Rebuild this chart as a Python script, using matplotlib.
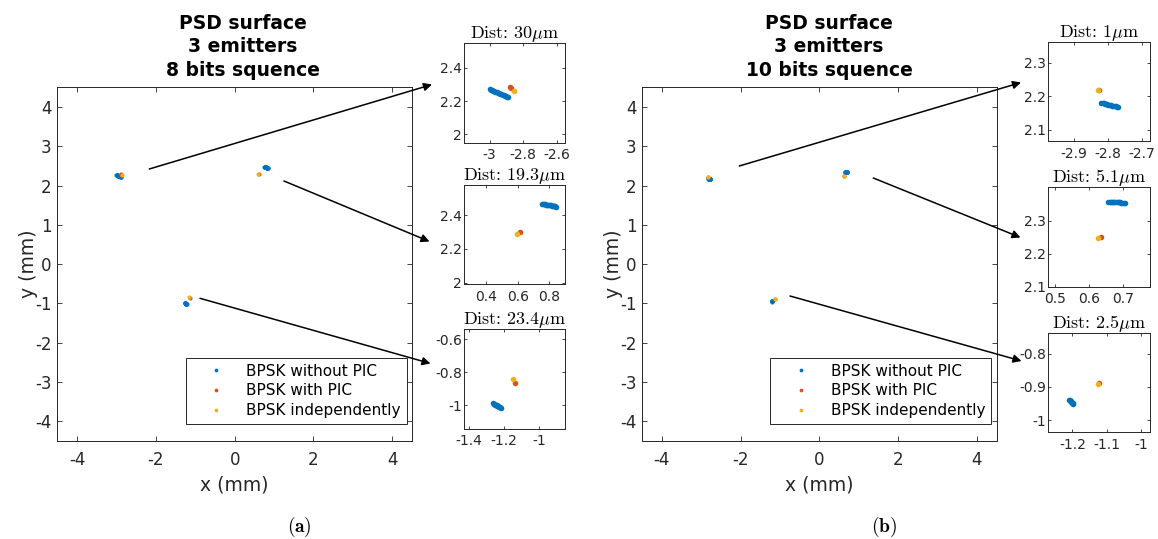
import matplotlib
matplotlib.use('Agg')
import matplotlib.pyplot as plt
from matplotlib.patches import FancyArrowPatch
from matplotlib.ticker import FuncFormatter

plt.rcParams['font.family'] = 'DejaVu Sans'
plt.rcParams['axes.unicode_minus'] = False
plt.rcParams['mathtext.fontset'] = 'cm'

# figure size in pixels
W, H = 1158, 539

BLUE = '#0072BD'
RED = '#D95319'
YELLOW = '#EDB120'
LABELS = ['BPSK without PIC', 'BPSK with PIC', 'BPSK independently']

# ---- data (mm), 3 emitters per series ----
# (a) 8 bits sequence
a_blue_x = [-3.000, -2.993, -2.986, -2.979, -2.972, -2.965, -2.958, -2.951,
            -2.944, -2.937, -2.930, -2.923, -2.916, -2.909, -2.902, -2.895, -2.888,
            0.755, 0.761, 0.767, 0.773, 0.779, 0.785, 0.791, 0.797,
            0.803, 0.809, 0.815, 0.821, 0.827, 0.833, 0.839, 0.845,
            -1.262, -1.259, -1.255, -1.251, -1.247, -1.243, -1.239, -1.235,
            -1.231, -1.227, -1.223, -1.219]
a_blue_y = [2.270, 2.267, 2.264, 2.261, 2.258, 2.255, 2.252, 2.249,
            2.246, 2.243, 2.240, 2.237, 2.234, 2.231, 2.228, 2.225, 2.222,
            2.467, 2.466, 2.466, 2.465, 2.464, 2.463, 2.462, 2.461,
            2.460, 2.459, 2.458, 2.457, 2.456, 2.455, 2.454, 2.452,
            -0.990, -0.992, -0.995, -0.997, -1.000, -1.002, -1.005, -1.007,
            -1.010, -1.012, -1.015, -1.017]
a_red_x = [-2.876, -2.872, 0.615, -1.135]
a_red_y = [2.284, 2.279, 2.300, -0.865]
a_yel_x = [-2.856, 0.596, -1.150]
a_yel_y = [2.258, 2.289, -0.844]

# (b) 10 bits sequence
b_blue_x = [-2.819, -2.815, -2.812, -2.808, -2.805, -2.801, -2.798, -2.794,
            -2.791, -2.787, -2.784, -2.780, -2.777, -2.774, -2.771,
            0.655, 0.659, 0.662, 0.666, 0.669, 0.673, 0.676, 0.680,
            0.683, 0.687, 0.690, 0.694, 0.697, 0.701, 0.704,
            -1.209, -1.207, -1.205, -1.203, -1.201, -1.199, -1.198]
b_blue_y = [2.180, 2.179, 2.179, 2.178, 2.177, 2.176, 2.175, 2.174,
            2.173, 2.172, 2.172, 2.171, 2.170, 2.169, 2.168,
            2.356, 2.356, 2.356, 2.356, 2.356, 2.355, 2.355, 2.355,
            2.355, 2.355, 2.355, 2.354, 2.354, 2.354, 2.354,
            -0.939, -0.941, -0.944, -0.946, -0.948, -0.950, -0.952]
b_red_x = [-2.826, 0.633, -1.123]
b_red_y = [2.217, 2.251, -0.889]
b_yel_x = [-2.827, 0.626, -1.126]
b_yel_y = [2.217, 2.248, -0.890]

# zoom windows: limits, ticks, titles
a_zoom_xlim = [(-3.152, -2.552), (0.26, 0.90), (-1.43, -0.85)]
a_zoom_ylim = [(1.95, 2.55), (1.99, 2.58), (-1.144, -0.539)]
a_zoom_xticks = [[-3, -2.8, -2.6], [0.4, 0.6, 0.8], [-1.4, -1.2, -1]]
a_zoom_yticks = [[2, 2.2, 2.4], [2, 2.2, 2.4], [-1, -0.8, -0.6]]
a_dist = ['30', '19.3', '23.4']

b_zoom_xlim = [(-2.974, -2.676), (0.479, 0.778), (-1.27, -0.975)]
b_zoom_ylim = [(2.067, 2.361), (2.10, 2.402), (-1.036, -0.737)]
b_zoom_xticks = [[-2.9, -2.8, -2.7], [0.5, 0.6, 0.7], [-1.2, -1.1, -1]]
b_zoom_yticks = [[2.1, 2.2, 2.3], [2.1, 2.2, 2.3], [-1, -0.9, -0.8]]
b_dist = ['1', '5.1', '2.5']


def px_box(l, t, r, b):
    # pixel box (top-left origin) -> figure fraction [left, bottom, w, h]
    return [l / W, 1 - b / H, (r - l) / W, (b - t) / H]


def style_axes(ax, size, length, pad):
    for s in ax.spines.values():
        s.set_color('#262626')
        s.set_linewidth(0.7)
    ax.tick_params(direction='in', top=True, right=True, length=length,
                   width=0.6, labelsize=size, colors='#262626', pad=pad)
    ax.xaxis.set_major_formatter(FuncFormatter(lambda v, p: '%g' % v))
    ax.yaxis.set_major_formatter(FuncFormatter(lambda v, p: '%g' % v))


def plot_series(ax, series, ms):
    for (x, y), c, lab in zip(series, [BLUE, RED, YELLOW], LABELS):
        ax.plot(x, y, 'o', ms=ms, mew=0, color=c, label=lab, linestyle='none')


def arrow(fig, p0, p1):
    a = FancyArrowPatch((p0[0] / W, 1 - p0[1] / H), (p1[0] / W, 1 - p1[1] / H),
                        transform=fig.transFigure, arrowstyle='-|>',
                        mutation_scale=12, lw=1.1, color='black',
                        shrinkA=0, shrinkB=0)
    fig.add_artist(a)


def panel(fig, main_box, title, title_x, series, zoom_boxes, xlims, ylims,
          xticks, yticks, dists, arrows, leg_xy, label, label_x):
    ax = fig.add_axes(px_box(*main_box))
    plot_series(ax, series, 3.0)
    ax.set_xlim(-4.5, 4.5)
    ax.set_ylim(-4.5, 4.5)
    ax.set_xticks([-4, -2, 0, 2, 4])
    ax.set_yticks([-4, -3, -2, -1, 0, 1, 2, 3, 4])
    style_axes(ax, 12, 3.5, 7)
    ax.tick_params(axis='y', pad=4)
    ax.set_xlabel('x (mm)', fontsize=13.5, color='#262626', labelpad=5)
    ax.set_ylabel('y (mm)', fontsize=13.5, color='#262626', labelpad=-2)
    leg = ax.legend(loc='upper left', bbox_to_anchor=(leg_xy[0] / W, 1 - leg_xy[1] / H),
                    bbox_transform=fig.transFigure, borderaxespad=0, fontsize=11,
                    handlelength=3.2, handletextpad=0.35, labelspacing=0.3,
                    borderpad=0.4, fancybox=False, framealpha=1, markerscale=0.9)
    leg.get_frame().set_edgecolor('#262626')
    leg.get_frame().set_linewidth(0.7)
    fig.text(title_x / W, 1 - 47 / H, title, ha='center', va='center',
             fontsize=13.5, fontweight='bold', linespacing=1.28)
    fig.text(label_x / W, 1 - 527 / H, r'$(\mathbf{%s})$' % label, ha='center',
             va='center', fontsize=14)

    for i in range(3):
        z = fig.add_axes(px_box(*zoom_boxes[i]))
        plot_series(z, series, 4.0)
        z.set_xlim(*xlims[i])
        z.set_ylim(*ylims[i])
        z.set_xticks(xticks[i])
        z.set_yticks(yticks[i])
        style_axes(z, 10, 2.5, 4)
        z.tick_params(axis='y', pad=1.5)
        z.set_title(r'Dist: %s$\mu$m' % dists[i], fontsize=13,
                    family='cmr10', pad=3.5)
    for p0, p1 in arrows:
        arrow(fig, p0, p1)


fig = plt.figure(figsize=(W / 100, H / 100), dpi=100)

panel(fig, (57.3, 87.3, 412, 441), 'PSD surface\n3 emitters\n8 bits squence', 243,
      [(a_blue_x, a_blue_y), (a_red_x, a_red_y), (a_yel_x, a_yel_y)],
      [(464, 42.7, 565, 142.7), (464.3, 185, 565, 284.3), (464, 329.2, 565, 428.7)],
      a_zoom_xlim, a_zoom_ylim, a_zoom_xticks, a_zoom_yticks, a_dist,
      [((149.3, 169), (432, 84.5)), ((284, 181), (429.5, 241.5)), ((200, 298.3), (430.5, 363.5))],
      (185.7, 357.7), 'a', 299)

panel(fig, (642, 87.3, 996.7, 441), 'PSD surface\n3 emitters\n10 bits squence', 829,
      [(b_blue_x, b_blue_y), (b_red_x, b_red_y), (b_yel_x, b_yel_y)],
      [(1048.3, 42, 1150, 141), (1048.3, 187, 1150, 286.5), (1048.3, 332.7, 1150, 432)],
      b_zoom_xlim, b_zoom_ylim, b_zoom_xticks, b_zoom_yticks, b_dist,
      [((739.3, 166), (1021, 82.5)), ((873.3, 178), (1020.5, 237.5)), ((790, 296), (1021.5, 361))],
      (770.3, 357.7), 'b', 884)

fig.savefig('out.png', dpi=100)
